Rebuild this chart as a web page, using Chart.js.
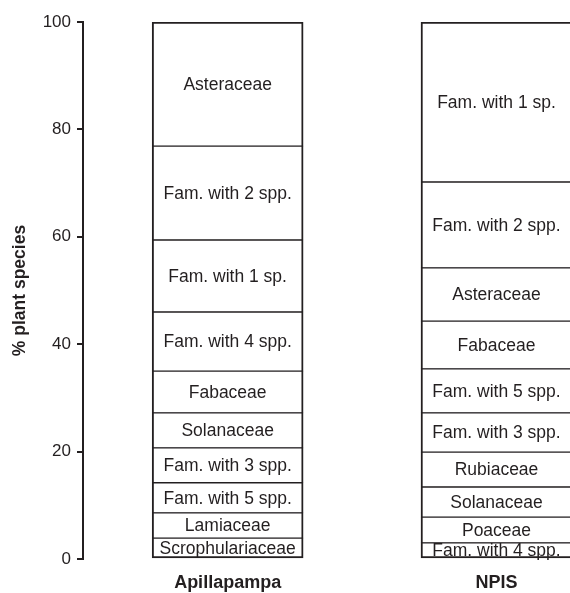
<!DOCTYPE html>
<html lang="en">
<head>
    <meta charset="UTF-8">
    <title>% plant species by family</title>
    <script src="https://cdn.jsdelivr.net/npm/chart.js"></script>
    <style>
        body {
            margin: 0;
            background-color: #ffffff;
            overflow: hidden;
        }
        canvas {
            display: block;
        }
    </style>
</head>
<body>
    <canvas id="stackChart" width="570" height="593"></canvas>

    <script>
        // sites on the x axis
        const sites = ['Apillapampa', 'NPIS'];

        // segments from bottom to top, one list per site
        const apillaNames = ['Scrophulariaceae', 'Lamiaceae', 'Fam. with 5 spp.', 'Fam. with 3 spp.', 'Solanaceae',
            'Fabaceae', 'Fam. with 4 spp.', 'Fam. with 1 sp.', 'Fam. with 2 spp.', 'Asteraceae'];
        const apillaValues = [3.9, 4.7, 5.6, 6.5, 6.5, 7.8, 11.0, 13.4, 17.5, 23.1];

        const npisNames = ['Fam. with 4 spp.', 'Poaceae', 'Solanaceae', 'Rubiaceae', 'Fam. with 3 spp.',
            'Fam. with 5 spp.', 'Fabaceae', 'Asteraceae', 'Fam. with 2 spp.', 'Fam. with 1 sp.'];
        const npisValues = [3.0, 4.8, 5.6, 6.5, 7.3, 8.2, 8.9, 9.9, 16.0, 29.8];

        const yTicks = [0, 20, 40, 60, 80, 100];

        const ink = '#231f20';
        const fontFamily = '"Liberation Sans", Arial, sans-serif';
        const nLevels = apillaValues.length;

        // one dataset per stacking level
        const datasets = apillaValues.map((v, i) => ({
            label: 'level ' + i,
            data: [{ x: 0, y: v }, { x: 1, y: npisValues[i] }],
            names: [apillaNames[i], npisNames[i]],
            backgroundColor: '#ffffff',
            borderColor: ink,
            borderSkipped: false,
            borderWidth: {
                left: 2,
                right: 2,
                top: i === nLevels - 1 ? 2 : 1,
                bottom: i === 0 ? 2 : 1
            },
            barThickness: 151
        }));

        // write the family name in the middle of every segment
        const segmentLabels = {
            id: 'segmentLabels',
            afterDatasetsDraw(chart) {
                const ctx = chart.ctx;
                ctx.save();
                ctx.font = '17.5px ' + fontFamily;
                ctx.fillStyle = ink;
                ctx.textAlign = 'center';
                ctx.textBaseline = 'middle';
                chart.data.datasets.forEach((ds, di) => {
                    chart.getDatasetMeta(di).data.forEach((bar, j) => {
                        ctx.fillText(ds.names[j], bar.x, (bar.y + bar.base) / 2 + 1);
                    });
                });
                ctx.restore();
            }
        };

        const ctx = document.getElementById('stackChart').getContext('2d');
        new Chart(ctx, {
            type: 'bar',
            data: { datasets: datasets },
            options: {
                responsive: false,
                animation: false,
                layout: { padding: { top: 22, right: 0, left: 0, bottom: 0 } },
                plugins: {
                    legend: { display: false },
                    tooltip: { enabled: false }
                },
                scales: {
                    x: {
                        type: 'linear',
                        stacked: true,
                        offset: false,
                        min: -0.538,
                        max: 1.2734,
                        grid: { display: false, drawTicks: false },
                        border: { display: false },
                        afterFit(scale) { scale.height = 34; },
                        ticks: {
                            stepSize: 1,
                            includeBounds: false,
                            autoSkip: false,
                            maxRotation: 0,
                            padding: 13,
                            color: ink,
                            font: { family: fontFamily, size: 18, weight: 'bold' },
                            callback: (v) => (Number.isInteger(v) && sites[v] !== undefined) ? sites[v] : ''
                        }
                    },
                    y: {
                        stacked: true,
                        min: 0,
                        max: 100,
                        afterFit(scale) { scale.width = 83; },
                        afterBuildTicks(scale) { scale.ticks = yTicks.map(v => ({ value: v })); },
                        border: { display: true, color: ink, width: 2 },
                        grid: { drawOnChartArea: false, tickLength: 6, color: ink, lineWidth: 2 },
                        ticks: {
                            padding: 6,
                            color: ink,
                            font: { family: fontFamily, size: 17 }
                        },
                        title: {
                            display: true,
                            text: '% plant species',
                            color: ink,
                            padding: { top: 10, bottom: 0 },
                            font: { family: fontFamily, size: 17.5, weight: 'bold' }
                        }
                    }
                }
            },
            plugins: [segmentLabels]
        });
    </script>
</body>
</html>
